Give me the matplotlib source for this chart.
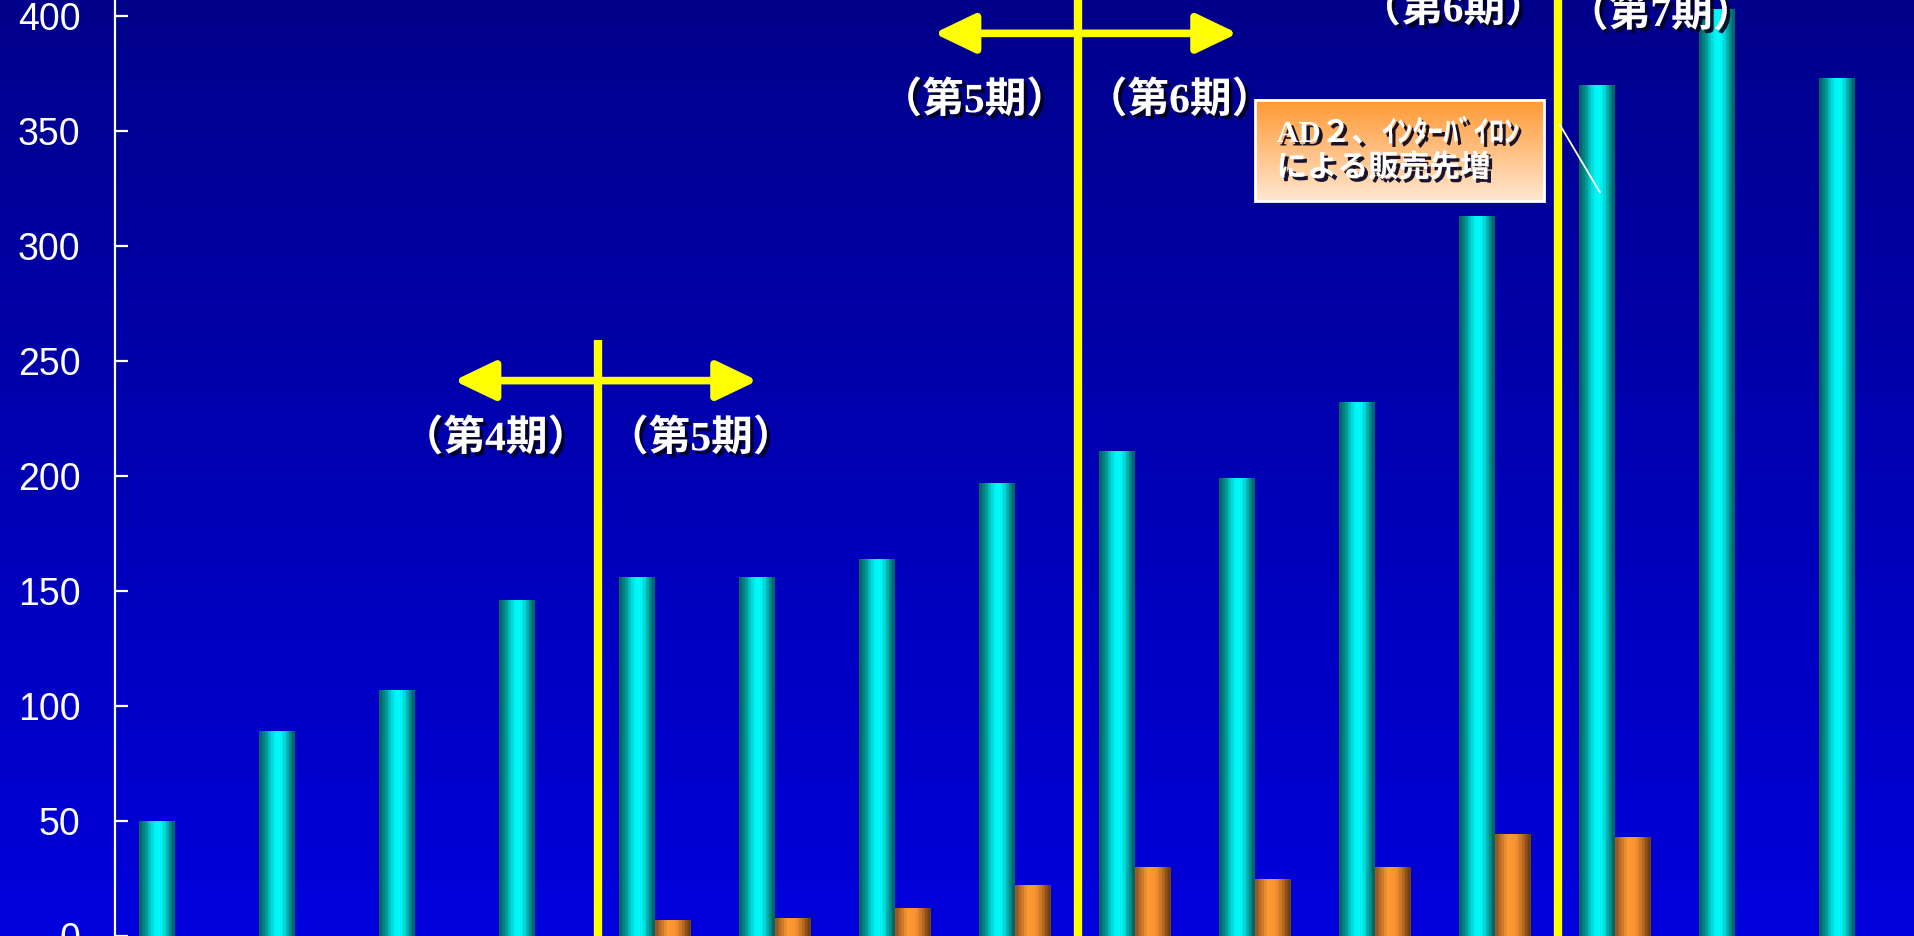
import matplotlib
matplotlib.use('Agg')
import matplotlib.pyplot as plt
import matplotlib.patheffects as pe
from matplotlib.colors import LinearSegmentedColormap
import numpy as np

# データ（期ごとの推移）
periods = np.arange(15)
series_a = [50, 89, 107, 146, 156, 156, 164, 197, 211, 199, 232, 313, 370, 403, 373]
series_b = [0, 0, 0, 0, 7, 8, 12, 22, 30, 25, 30, 44.5, 43, 0, 0]
yticks = [0, 50, 100, 150, 200, 250, 300, 350, 400]

# 期の区切り
boundaries = [3.525, 7.525, 11.525]
boundary_tops = [259, 420, 420]
arrow_y = [241.5, 392.5, None]
left_labels = ['（第4期）', '（第5期）', '（第6期）']
right_labels = ['（第5期）', '（第6期）', '（第7期）']
note_text = 'AD２、ｲﾝﾀｰﾊﾞｲﾛﾝ\nによる販売先増'

cjk = ['Liberation Serif', 'Noto Sans CJK JP', 'DejaVu Sans']
shadow = [pe.SimplePatchShadow(offset=(2.5, -2.5), shadow_rgbFace='#000020', alpha=0.9), pe.Normal()]

fig = plt.figure(figsize=(19.15, 9.36), dpi=100)

# 背景グラデーション
bg = fig.add_axes([0, 0, 1, 1], zorder=0)
bg_cmap = LinearSegmentedColormap.from_list('bg', ['#00008A', '#0000DC'])
bg.imshow(np.linspace(0, 1, 256).reshape(-1, 1), cmap=bg_cmap, aspect='auto',
          extent=[0, 1, 0, 1], origin='upper')
bg.axis('off')

ax = fig.add_axes([115 / 1915, 0, 1 - 115 / 1915, 1], zorder=1)
ax.patch.set_alpha(0)

cyan_cmap = LinearSegmentedColormap.from_list(
    'cy', [(0, '#006A6A'), (0.18, '#009A9A'), (0.36, '#00E0E0'), (0.5, '#00FFFF'),
           (0.68, '#00F0F0'), (0.8, '#00B8B8'), (1, '#006868')], N=12)
orange_cmap = LinearSegmentedColormap.from_list(
    'or', [(0, '#9A5820'), (0.18, '#D07C2C'), (0.35, '#FF9933'), (0.6, '#F8952F'),
           (0.8, '#B86A24'), (1, '#6E4012')], N=12)

w = 0.3
bars_a = ax.bar(periods - w / 2, series_a, width=w, color='none', zorder=3)
bars_b = ax.bar(periods + w / 2, series_b, width=w, color='none', zorder=3)
grad = np.linspace(0, 1, 64).reshape(1, -1)
for bars, cmap in [(bars_a, cyan_cmap), (bars_b, orange_cmap)]:
    for p in bars:
        h = p.get_height()
        if h <= 0:
            continue
        x0 = p.get_x()
        im = ax.imshow(grad, cmap=cmap, aspect='auto', zorder=3,
                       extent=[x0, x0 + p.get_width(), 0, h])
        im.set_clip_path(p)

# 区切り線と矢印
for i, bx in enumerate(boundaries):
    ax.plot([bx, bx], [0, boundary_tops[i]], color='#FFFF00', lw=6, zorder=4,
            solid_capstyle='butt')
    if arrow_y[i] is not None:
        ax.annotate('', xy=(bx - 1.2, arrow_y[i]), xytext=(bx + 1.33, arrow_y[i]),
                    arrowprops=dict(arrowstyle='<|-|>,head_length=2.5,head_width=1.2',
                                    color='#FFFF00', lw=5.5, shrinkA=0, shrinkB=0,
                                    mutation_scale=10), zorder=4)

label_y = [216, 363, 402.5]
label_y2 = [216, 363, 400.5]
left_x = [2.67, 6.66, 10.65]
right_x = [4.38, 8.37, 12.38]
for i in range(3):
    ax.text(left_x[i], label_y[i], left_labels[i], color='white', fontsize=30,
            fontweight='bold', family=cjk, ha='center', va='center',
            path_effects=shadow, zorder=6)
    ax.text(right_x[i], label_y2[i], right_labels[i], color='white', fontsize=30,
            fontweight='bold', family=cjk, ha='center', va='center',
            path_effects=shadow, zorder=6)

# 注記ボックス
box_x0, box_x1, box_y0, box_y1 = 9.0, 11.41, 319.4, 363.7
note_cmap = LinearSegmentedColormap.from_list('nt', ['#FF9933', '#FFE6D0'])
ax.imshow(np.linspace(0, 1, 64).reshape(-1, 1), cmap=note_cmap, aspect='auto',
          extent=[box_x0, box_x1, box_y0, box_y1], origin='upper', zorder=5)
ax.add_patch(plt.Rectangle((box_x0, box_y0), box_x1 - box_x0, box_y1 - box_y0,
                           fill=False, ec='white', lw=2, zorder=5))
ax.text(9.18, 341.0, note_text, color='white', fontsize=22, fontweight='bold',
        family=cjk, ha='left', va='center', linespacing=1.2,
        path_effects=shadow, zorder=6)
ax.plot([11.54, 11.875], [352.8, 323.3], color='white', lw=1.3, zorder=5)

ax.set_xlim(-0.5, 14.5)
ax.set_ylim(1.13, 407.0)
ax.set_yticks(yticks)
ax.set_xticks([])
for s in ['top', 'right', 'bottom']:
    ax.spines[s].set_visible(False)
ax.spines['left'].set_color('white')
ax.spines['left'].set_linewidth(1.6)
ax.tick_params(axis='y', direction='in', length=9.5, width=1.6, color='white',
               labelcolor='white', labelsize=27, pad=25)
for t in ax.get_yticklabels():
    t.set_family('Liberation Sans')
    t.set_clip_on(False)

fig.savefig('out.png', dpi=100)
